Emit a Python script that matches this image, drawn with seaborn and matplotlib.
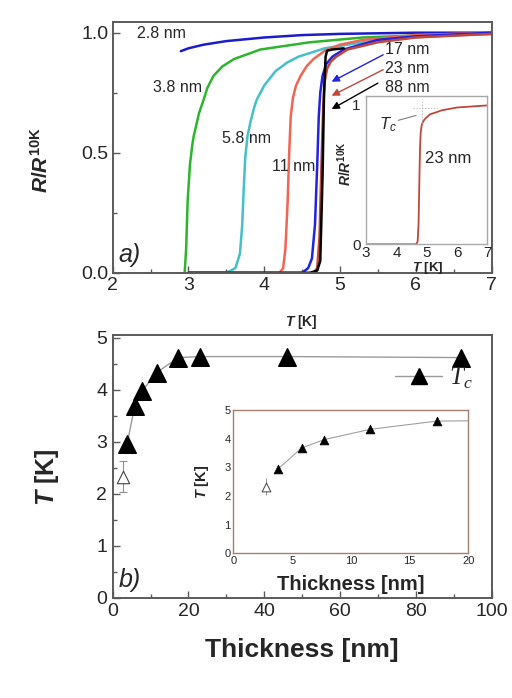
import numpy as np
import pandas as pd
import matplotlib
matplotlib.use("Agg")
import matplotlib.pyplot as plt
import seaborn as sns
from matplotlib.lines import Line2D

sns.set_style("ticks")
plt.rcParams['font.family'] = ['Liberation Sans', 'DejaVu Sans']
plt.rcParams['mathtext.fontset'] = 'custom'
plt.rcParams['mathtext.it'] = 'Liberation Sans:bold:italic'
plt.rcParams['mathtext.rm'] = 'Liberation Sans:bold'
plt.rcParams['mathtext.sf'] = 'Liberation Serif:italic'
plt.rcParams['mathtext.bf'] = 'Liberation Sans:italic'

# ---------------- data: panel a) R/R10K vs T ----------------
labels = ["2.8 nm", "3.8 nm", "5.8 nm", "11 nm", "17 nm", "23 nm", "88 nm"]
colors = ["#1c1ccc", "#2db52d", "#45c0c8", "#f26454", "#2222e0", "#c0473c", "#000000"]

T_28 = [2.9, 3.0, 3.2, 3.5, 4.0, 4.5, 5.0, 6.0, 7.0]
R_28 = [0.923, 0.935, 0.95, 0.965, 0.98, 0.99, 0.995, 1.0, 1.0]

T_38 = [2.95, 2.97, 2.99, 3.02, 3.05, 3.07, 3.1, 3.14, 3.2, 3.25, 3.33, 3.45, 3.6, 3.95, 4.6, 5.3, 6.1, 7.0]
R_38 = [0.0, 0.1, 0.3, 0.45, 0.53, 0.57, 0.61, 0.665, 0.72, 0.77, 0.82, 0.86, 0.89, 0.93, 0.96, 0.98, 0.99, 0.995]

T_58 = [3.0, 3.5, 3.62, 3.68, 3.71, 3.73, 3.75, 3.78, 3.82, 3.86, 3.9, 4.0, 4.15, 4.3, 4.45, 4.8, 5.5, 6.2, 7.0]
R_58 = [0.0, 0.0, 0.02, 0.08, 0.2, 0.35, 0.48, 0.57, 0.63, 0.68, 0.72, 0.78, 0.84, 0.875, 0.9, 0.935, 0.97, 0.985, 0.995]

T_11 = [3.0, 4.2, 4.25, 4.28, 4.31, 4.33, 4.35, 4.38, 4.42, 4.48, 4.56, 4.65, 4.8, 5.0, 5.3, 6.0, 7.0]
R_11 = [0.0, 0.0, 0.02, 0.1, 0.3, 0.5, 0.65, 0.73, 0.78, 0.82, 0.86, 0.89, 0.925, 0.95, 0.97, 0.99, 1.0]

T_17 = [3.0, 4.5, 4.58, 4.63, 4.67, 4.7, 4.72, 4.74, 4.77, 4.82, 4.9, 5.05, 5.5, 6.0, 7.0]
R_17 = [0.0, 0.0, 0.02, 0.06, 0.2, 0.45, 0.65, 0.75, 0.82, 0.87, 0.9, 0.93, 0.97, 0.985, 1.0]

T_23 = [3.0, 4.65, 4.7, 4.73, 4.76, 4.78, 4.8, 4.83, 4.88, 4.95, 5.1, 5.5, 6.0, 7.0]
R_23 = [0.0, 0.0, 0.02, 0.15, 0.5, 0.7, 0.8, 0.85, 0.88, 0.9, 0.93, 0.96, 0.98, 0.995]

T_88 = [3.0, 4.6, 4.7, 4.74, 4.77, 4.79, 4.81, 4.83, 4.9, 5.05]
R_88 = [0.0, 0.0, 0.01, 0.05, 0.4, 0.75, 0.9, 0.925, 0.93, 0.935]

curves_T = [T_28, T_38, T_58, T_11, T_17, T_23, T_88]
curves_R = [R_28, R_38, R_58, R_11, R_17, R_23, R_88]

# ---------------- data: panel b) Tc vs thickness ----------------
thick = [3.8, 5.8, 7.7, 11.6, 17.3, 23.0, 46.0, 92.0]
Tc = [2.95, 3.68, 3.97, 4.33, 4.62, 4.64, 4.64, 4.62]
thick_open = [2.8]
Tc_open = [2.33]
Tc_open_err = [0.3]
inset_thick_end = [20.0]
inset_Tc_end = [4.63]

rows = []
for lab, ts, rs in zip(labels, curves_T, curves_R):
    for t, r in zip(ts, rs):
        rows.append((lab, t, r))
df = pd.DataFrame(rows, columns=["film", "T", "R"])
pal = dict(zip(labels, colors))

fig = plt.figure(figsize=(5.12, 6.98), dpi=100)
spine_c = "#5a5a5a"

def style_axes(ax, lw=1.4, c=spine_c):
    for s in ax.spines.values():
        s.set_visible(True)
        s.set_color(c)
        s.set_linewidth(lw)

# ---------------- panel a ----------------
axa = fig.add_axes([0.220, 0.609, 0.740, 0.360])
sns.lineplot(data=df, x="T", y="R", hue="film", palette=pal, ax=axa,
             estimator=None, legend=False, linewidth=1.8)
axa.set_xlim(2, 7)
axa.set_ylim(0, 1.046)
axa.set_xticks([2, 3, 4, 5, 6, 7])
axa.set_yticks([0.0, 0.5, 1.0])
axa.set_yticklabels(["0.0", "0.5", "1.0"])
axa.set_xticks([2.5, 3.5, 4.5, 5.5, 6.5], minor=True)
axa.set_yticks([0.25, 0.75], minor=True)
axa.tick_params(direction="in", labelsize=14, length=5, width=1, color=spine_c, pad=3)
axa.tick_params(which="minor", direction="in", length=3, width=1, color=spine_c)
axa.set_xlabel("")
axa.set_ylabel("")
style_axes(axa)
axa.text(0.499, -0.195, "$T$ [K]", transform=axa.transAxes, ha="center", va="center",
         fontsize=10, fontweight="bold")
axa.text(-0.19, 0.45, r"$R/R^{\mathrm{10K}}$", transform=axa.transAxes, ha="center",
         va="center", rotation=90, fontsize=15)

axa.text(2.65, 0.995, "2.8 nm", fontsize=11.5, ha="center", va="center")
axa.text(2.86, 0.77, "3.8 nm", fontsize=11.5, ha="center", va="center")
axa.text(3.77, 0.561, "5.8 nm", fontsize=11.5, ha="center", va="center")
axa.text(4.39, 0.443, "11 nm", fontsize=11.5, ha="center", va="center")
axa.text(2.22, 0.075, "a)", fontsize=18, style="italic", ha="center", va="center")

arrow_txt = [("17 nm", 0.929, (5.57, 0.908), (4.89, 0.796), colors[4]),
             ("23 nm", 0.849, (5.57, 0.846), (4.89, 0.7375), colors[5]),
             ("88 nm", 0.770, (5.50, 0.790), (4.89, 0.682), colors[6])]
for txt, ty, tail, head, c in arrow_txt:
    axa.text(5.59, ty, txt, fontsize=11.5, ha="left", va="center")
    axa.annotate("", xy=head, xytext=tail,
                 arrowprops=dict(arrowstyle="-|>", color=c, lw=1.0, mutation_scale=11,
                                 shrinkA=0, shrinkB=0))

# inset a
axai = fig.add_axes([0.715, 0.650, 0.237, 0.212])
sns.lineplot(x=T_23, y=R_23, color="#c0473c", ax=axai, linewidth=1.3, estimator=None)
axai.set_xlim(3, 7)
axai.set_ylim(0, 1.06)
axai.set_xticks([3, 4, 5, 6, 7])
axai.set_yticks([0, 1])
axai.tick_params(axis="x", direction="in", length=0, labelsize=11, pad=1.5)
axai.tick_params(axis="y", direction="in", length=0, labelsize=11, pad=4)
axai.set_xlabel("")
axai.set_ylabel("")
axai.patch.set_facecolor("white")
style_axes(axai, lw=1.0, c="#a8a8a8")
axai.plot([4.55, 5.35], [0.974, 0.974], ls=":", color="#b0b0b0", lw=0.8)
axai.plot([4.84, 4.84], [0.85, 1.04], ls=":", color="#b0b0b0", lw=0.8)
axai.text(3.73, 0.86, r"$\mathbf{T}_\mathbf{c}$", fontsize=12, ha="center", va="center")
axai.annotate("", xy=(4.65, 0.923), xytext=(4.06, 0.888),
              arrowprops=dict(arrowstyle="-", color="#808080", lw=0.8, shrinkA=0, shrinkB=0))
axai.text(5.71, 0.616, "23 nm", fontsize=12, ha="center", va="center")
axai.text(0.51, -0.158, "$T$ [K]", transform=axai.transAxes, ha="center", va="center",
          fontsize=9.5, fontweight="bold")
axai.text(-0.173, 0.547, r"$R/R^{\mathrm{10K}}$", transform=axai.transAxes, ha="center",
          va="center", rotation=90, fontsize=10)

# ---------------- panel b ----------------
axb = fig.add_axes([0.220, 0.1437, 0.740, 0.376])
sns.lineplot(x=thick, y=Tc, color="#9a9a9a", ax=axb, linewidth=1.0, estimator=None, sort=False)
sns.scatterplot(x=thick, y=Tc, marker="^", s=160, color="black", edgecolor="black", ax=axb, zorder=3)
axb.errorbar(thick_open, Tc_open, yerr=Tc_open_err, fmt="none", ecolor="#909090",
             elinewidth=0.8, capsize=3, capthick=0.8)
sns.scatterplot(x=thick_open, y=Tc_open, marker="^", s=80, facecolor="white",
                edgecolor="#444444", linewidth=0.8, ax=axb, zorder=3)
axb.set_xlim(0, 100)
axb.set_ylim(0, 5.05)
axb.set_xticks([0, 20, 40, 60, 80, 100])
axb.set_yticks([0, 1, 2, 3, 4, 5])
axb.set_xticks([10, 30, 50, 70, 90], minor=True)
axb.set_yticks([0.5, 1.5, 2.5, 3.5, 4.5], minor=True)
axb.tick_params(direction="in", labelsize=14, length=5, width=1, color=spine_c, pad=4)
axb.tick_params(which="minor", direction="in", length=3, width=1, color=spine_c)
axb.set_xlabel("")
axb.set_ylabel("")
style_axes(axb)
axb.text(0.5, -0.199, "Thickness [nm]", transform=axb.transAxes, ha="center", va="center",
         fontsize=19, fontweight="bold")
axb.text(-0.174, 0.46, "$T$ [K]", transform=axb.transAxes, ha="center", va="center",
         rotation=90, fontsize=18, fontweight="bold")
axb.text(4.5, 0.34, "b)", fontsize=18, style="italic", ha="center", va="center")

h = Line2D([], [], color="#9a9a9a", lw=1.0, marker="^", markersize=12,
           markerfacecolor="black", markeredgecolor="black")
axb.legend([h], [r"$\mathsf{T}_\mathsf{c}$"], loc="center", bbox_to_anchor=(0.847, 0.836),
           frameon=False, fontsize=18, handlelength=1.9, handletextpad=0.25, borderpad=0)

# inset b
axbi = fig.add_axes([0.456, 0.2073, 0.459, 0.205])
sns.lineplot(x=thick + inset_thick_end, y=Tc + inset_Tc_end, color="#a0a0a0", ax=axbi,
             linewidth=0.8, estimator=None, sort=False)
sns.scatterplot(x=thick, y=Tc, marker="^", s=40, color="black", edgecolor="black", ax=axbi, zorder=3)
axbi.errorbar(thick_open, Tc_open, yerr=Tc_open_err, fmt="none", ecolor="#909090",
              elinewidth=0.7, capsize=0)
sns.scatterplot(x=thick_open, y=Tc_open, marker="^", s=40, facecolor="white",
                edgecolor="#444444", linewidth=0.7, ax=axbi, zorder=3)
axbi.set_xlim(0, 20)
axbi.set_ylim(0, 5)
axbi.set_xticks([0, 5, 10, 15, 20])
axbi.set_yticks([0, 1, 2, 3, 4, 5])
axbi.tick_params(direction="in", length=0, labelsize=8, pad=2)
axbi.set_xlabel("")
axbi.set_ylabel("")
style_axes(axbi, lw=1.0, c="#a08070")
axbi.text(0.50, -0.221, "Thickness [nm]", transform=axbi.transAxes, ha="center", va="center",
          fontsize=14.5, fontweight="bold")
axbi.text(-0.133, 0.50, "$T$ [K]", transform=axbi.transAxes, ha="center", va="center",
          rotation=90, fontsize=10.5, fontweight="bold")

fig.savefig("out.png", dpi=100)
